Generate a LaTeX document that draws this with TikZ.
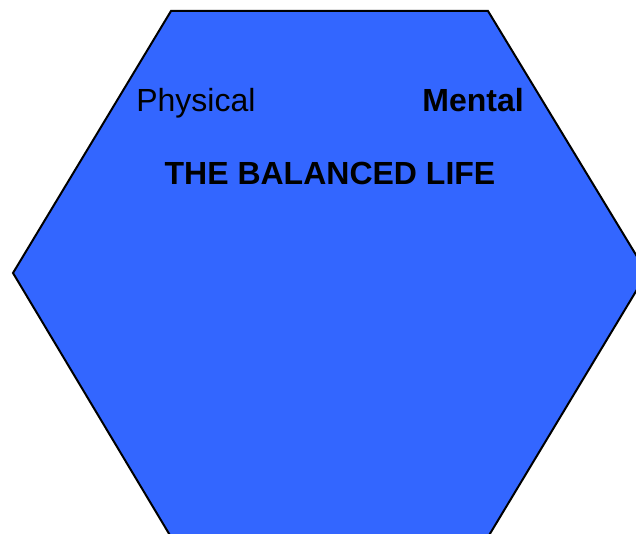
\documentclass[tikz,border=0pt]{standalone}
\usepackage{fontspec}
\setmainfont{Liberation Sans}
\definecolor{hexblue}{HTML}{3366FF}
\begin{document}
\begin{tikzpicture}[x=0.75pt,y=-0.75pt,
  hexfill/.style={fill=hexblue,draw=black,line width=1.5pt,line join=miter},
  lbl/.style={inner sep=0pt,font=\fontsize{24}{28}\selectfont}]
\useasboundingbox (0,0) rectangle (636,534);
\clip (0,0) rectangle (636,534);
\draw[hexfill] (171,11) -- (488,11) -- (647,273) -- (488,537) -- (171,537) -- (13,273) -- cycle;
\node[lbl,anchor=base west] (phys) at (136,112) {Physical};
\node[lbl,anchor=base east] (ment) at (524,112) {\textbf{Mental}};
\node[lbl,anchor=base] (title) at (330,185) {\textbf{THE BALANCED LIFE}};
\end{tikzpicture}
\end{document}
